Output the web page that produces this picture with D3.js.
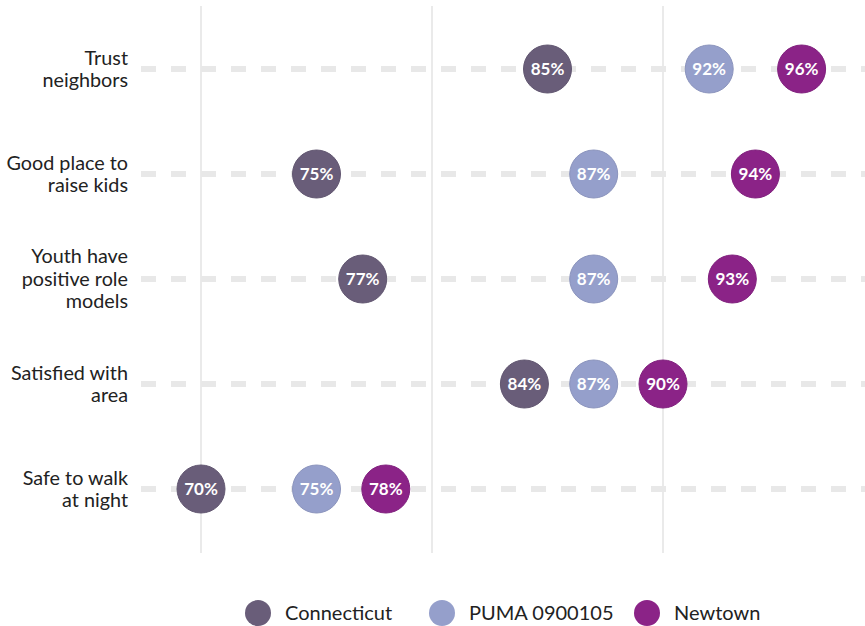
<!DOCTYPE html>
<html>
<head>
<meta charset="utf-8">
<script src="https://cdn.jsdelivr.net/npm/d3@7"></script>
<style>
  body { margin: 0; background: #fff; }
  svg text { font-family: "Source Sans Pro", Lato, "Noto Sans", sans-serif; }
</style>
</head>
<body>
<div id="chart"></div>
<script>
const width = 865;
const height = 626;

const categories = [
    ["Trust", "neighbors"],
    ["Good place to", "raise kids"],
    ["Youth have", "positive role", "models"],
    ["Satisfied with", "area"],
    ["Safe to walk", "at night"]
];
const seriesNames = ["Connecticut", "PUMA 0900105", "Newtown"];
const seriesColors = ["#695d79", "#959fcb", "#8b2387"];
const connecticut = [85, 75, 77, 84, 70];
const puma = [92, 87, 87, 87, 75];
const newtown = [96, 94, 93, 90, 78];
const gridTicks = [70, 80, 90];

const seriesValues = [connecticut, puma, newtown];

const svg = d3.select("#chart").append("svg")
    .attr("width", width)
    .attr("height", height);

const x = d3.scaleLinear()
    .domain([70, 90])
    .range([201, 663]);

const y = d3.scalePoint()
    .domain(d3.range(categories.length))
    .range([69, 489]);

// vertical grid
svg.selectAll(".grid")
    .data(gridTicks)
    .enter().append("line")
    .attr("x1", d => x(d)).attr("x2", d => x(d))
    .attr("y1", 6).attr("y2", 553)
    .attr("stroke", "#dcdcdc")
    .attr("stroke-width", 1.2);

// dashed row lines
svg.selectAll(".row")
    .data(categories)
    .enter().append("line")
    .attr("x1", 141).attr("x2", width)
    .attr("y1", (d, i) => y(i)).attr("y2", (d, i) => y(i))
    .attr("stroke", "#e8e8e8")
    .attr("stroke-width", 6)
    .attr("stroke-dasharray", "15,15");

// row labels
const lineH = 22.5;
categories.forEach((lines, i) => {
    const t = svg.append("text")
        .attr("text-anchor", "end")
        .attr("font-size", 19.8)
        .attr("fill", "#222");
    lines.forEach((l, j) => {
        t.append("tspan")
            .attr("x", 128)
            .attr("y", y(i) + (j - (lines.length - 1) / 2) * lineH)
            .attr("dy", "0.35em")
            .text(l);
    });
});

// dots
seriesValues.forEach((vals, s) => {
    const g = svg.append("g");
    g.selectAll("circle")
        .data(vals)
        .enter().append("circle")
        .attr("cx", d => x(d))
        .attr("cy", (d, i) => y(i))
        .attr("r", 24)
        .attr("fill", seriesColors[s])
        .attr("stroke", d3.color(seriesColors[s]).darker(0.2))
        .attr("stroke-width", 1);
    g.selectAll("text")
        .data(vals)
        .enter().append("text")
        .attr("x", d => x(d))
        .attr("y", (d, i) => y(i))
        .attr("dy", "0.35em")
        .attr("text-anchor", "middle")
        .attr("font-size", 17)
        .attr("font-weight", "bold")
        .attr("fill", "#fff")
        .text(d => d + "%");
});

// legend
const legendX = [258, 442, 647];
const legend = svg.selectAll(".legend")
    .data(seriesNames)
    .enter().append("g")
    .attr("transform", (d, i) => `translate(${legendX[i]},613)`);
legend.append("circle")
    .attr("r", 13)
    .attr("fill", (d, i) => seriesColors[i]);
legend.append("text")
    .attr("x", 27)
    .attr("dy", "0.35em")
    .attr("font-size", 20)
    .attr("fill", "#222")
    .text(d => d);
</script>
</body>
</html>
